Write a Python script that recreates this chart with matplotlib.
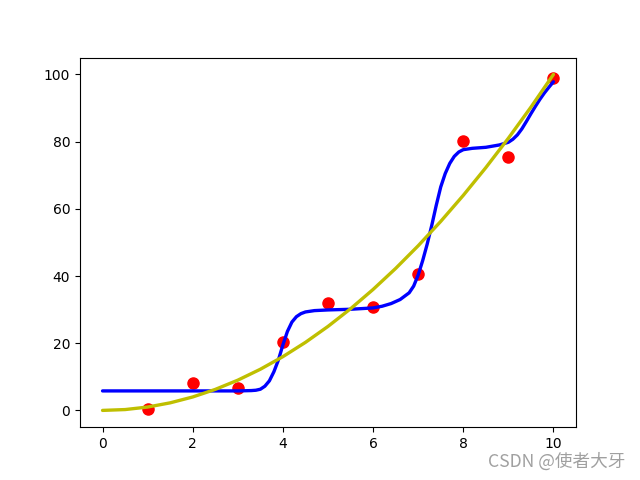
import matplotlib
matplotlib.use("Agg")
import matplotlib.pyplot as plt

# red data points
pts_x = [1, 2, 3, 4, 5, 6, 7, 8, 9, 10]
pts_y = [0.3, 8.3, 6.8, 20.5, 32.1, 30.7, 40.5, 80.1, 75.3, 98.8]

# blue fitted curve
blue_x = [0.0, 0.5, 1.0, 1.5, 2.0, 2.5, 3.0, 3.3, 3.4, 3.5, 3.6, 3.7, 3.8, 3.9,
          4.0, 4.1, 4.2, 4.3, 4.4, 4.5, 4.7, 5.0, 5.5, 6.0, 6.2, 6.4, 6.6, 6.8,
          6.9, 7.0, 7.1, 7.2, 7.3, 7.4, 7.5, 7.6, 7.7, 7.8, 7.9, 8.0, 8.2, 8.5,
          8.8, 9.0, 9.1, 9.2, 9.3, 9.4, 9.5, 9.6, 9.7, 9.8, 9.9, 10.0]
blue_y = [5.8, 5.8, 5.8, 5.8, 5.8, 5.8, 5.8, 5.9, 6.0, 6.3, 7.2, 8.8, 11.5, 15.0,
          19.5, 23.5, 26.3, 27.9, 28.8, 29.3, 29.7, 29.9, 30.1, 30.5, 31.0, 31.8, 33.0, 35.0,
          37.0, 40.3, 44.6, 49.5, 55.0, 61.0, 66.5, 70.5, 73.5, 75.6, 76.9, 77.6, 78.0, 78.3,
          79.0, 79.8, 80.7, 82.0, 83.8, 86.0, 88.3, 90.5, 92.6, 94.5, 96.2, 97.8]

# yellow curve
yel_x = [0.0, 0.5, 1.0, 1.5, 2.0, 2.5, 3.0, 3.5, 4.0, 4.5, 5.0, 5.5, 6.0, 6.5,
         7.0, 7.5, 8.0, 8.5, 9.0, 9.5, 10.0]
yel_y = [0.0, 0.25, 1.0, 2.25, 4.0, 6.25, 9.0, 12.25, 16.0, 20.25, 25.0, 30.25,
         36.0, 42.25, 49.0, 56.25, 64.0, 72.25, 81.0, 90.25, 100.0]

fig, ax = plt.subplots(figsize=(6.4, 4.8), dpi=100)
ax.scatter(pts_x, pts_y, color='r', s=64)
ax.plot(blue_x, blue_y, color='b', lw=2.4, solid_capstyle='round', solid_joinstyle='round')
ax.plot(yel_x, yel_y, color='y', lw=2.4, solid_capstyle='round', solid_joinstyle='round')

fig.text(0.977, 0.0375, 'CSDN @使者大牙', ha='right', va='center', fontsize=12.7,
         color='#a0a0a0', family=['Noto Sans CJK SC', 'DejaVu Sans'])

fig.savefig('out.png', dpi=100)
